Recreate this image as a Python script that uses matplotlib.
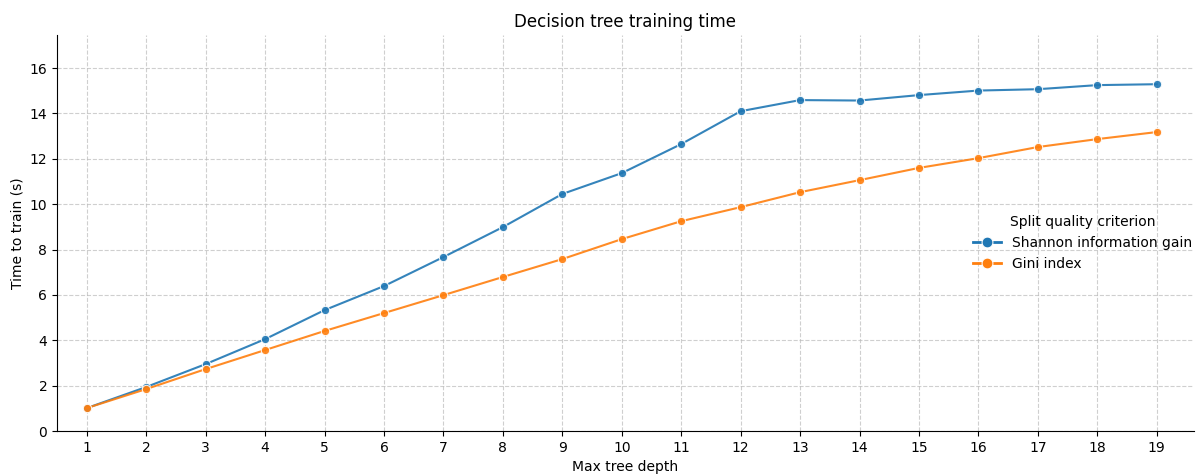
import matplotlib
matplotlib.use('Agg')
import matplotlib.pyplot as plt
import seaborn as sns
import pandas as pd

depths = list(range(1, 20))
shannon = [1.01, 1.94, 2.95, 4.05, 5.33, 6.39, 7.67, 8.99, 10.45, 11.37,
           12.65, 14.1, 14.59, 14.57, 14.81, 15.01, 15.07, 15.25, 15.29]
gini = [1.01, 1.85, 2.73, 3.57, 4.41, 5.2, 5.99, 6.79, 7.58, 8.46,
        9.25, 9.87, 10.53, 11.06, 11.6, 12.03, 12.52, 12.87, 13.18]
criteria = ['Shannon information gain', 'Gini index']

df = pd.DataFrame({
    'depth': depths * 2,
    'time': shannon + gini,
    'criterion': [criteria[0]] * len(depths) + [criteria[1]] * len(depths),
})

fig = plt.figure(figsize=(11.96, 4.74), dpi=100)
ax = fig.add_axes([0.0477, 0.0907, 0.9503, 0.835])

sns.lineplot(data=df, x='depth', y='time', hue='criterion', marker='o', ax=ax,
             palette=['#1f77b4', '#ff7f0e'], markersize=6, linewidth=1.5, alpha=0.9)

ax.set_xticks(depths)
ax.set_xlim(0.5, 19.62)
ax.set_ylim(0, 17.45)
ax.grid(True, linestyle='--', color='#bbbbbb', linewidth=0.8, alpha=0.7)
ax.set_axisbelow(True)
ax.spines['top'].set_visible(False)
ax.spines['right'].set_visible(False)

ax.set_title('Decision tree training time')
ax.set_xlabel('Max tree depth')
ax.set_ylabel('Time to train (s)')
leg = ax.legend(title='Split quality criterion', frameon=False, loc='center left',
                bbox_to_anchor=(0.795, 0.475), markerscale=1.3)
for h in leg.legend_handles:
    h.set_linewidth(2)
    h.set_alpha(1)

fig.savefig('out.png', dpi=100)
